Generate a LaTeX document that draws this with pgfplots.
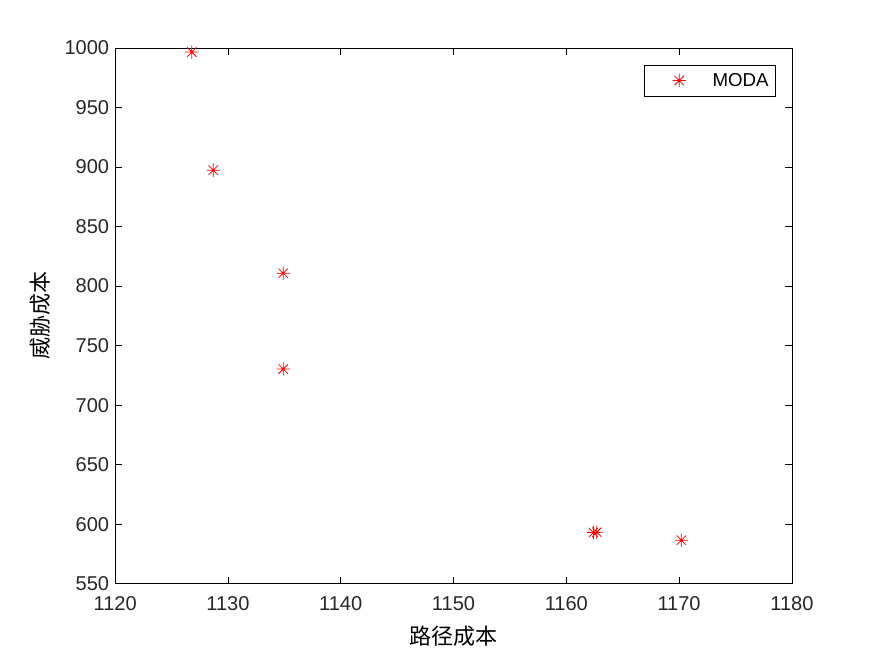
\documentclass[border=0pt]{standalone}
\usepackage{fontspec}
\setmainfont{Liberation Sans}
\newfontfamily\cjk{Noto Sans CJK SC}
\usepackage{pgfplots}
\pgfplotsset{compat=1.18}
\pgfdeclareplotmark{mstar}{%
  \pgfpathmoveto{\pgfqpoint{-\pgfplotmarksize}{0pt}}\pgfpathlineto{\pgfqpoint{\pgfplotmarksize}{0pt}}%
  \pgfpathmoveto{\pgfqpoint{0pt}{-\pgfplotmarksize}}\pgfpathlineto{\pgfqpoint{0pt}{\pgfplotmarksize}}%
  \pgfpathmoveto{\pgfqpoint{-0.7071\pgfplotmarksize}{-0.7071\pgfplotmarksize}}\pgfpathlineto{\pgfqpoint{0.7071\pgfplotmarksize}{0.7071\pgfplotmarksize}}%
  \pgfpathmoveto{\pgfqpoint{-0.7071\pgfplotmarksize}{0.7071\pgfplotmarksize}}\pgfpathlineto{\pgfqpoint{0.7071\pgfplotmarksize}{-0.7071\pgfplotmarksize}}%
  \pgfusepathqstroke}
\begin{document}
\begin{tikzpicture}[x=1pt,y=1pt]
\path (-86.25pt,-54.75pt) rectangle (569.25pt,437.25pt);
\begin{axis}[
  at={(0pt,0pt)}, anchor=south west,
  scale only axis,
  width=507pt, height=401.25pt,
  xmin=1120, xmax=1180, ymin=550, ymax=1000,
  xtick={1120,1130,...,1180},
  ytick={550,600,...,1000},
  tick align=inside,
  tick pos=both,
  major tick length=5pt,
  axis line style={line width=0.6pt},
  every tick/.style={line width=0.6pt, black},
  /pgf/number format/assume math mode=true,
  /pgf/number format/1000 sep={},
  tick label style={font=\fontsize{15}{18}\selectfont, color=black!85},
  xticklabel style={yshift=-6pt},
  yticklabel style={xshift=-1pt},
  xlabel={\cjk\fontsize{16.5}{18}\selectfont 路径成本},
  ylabel={\cjk\fontsize{16.5}{18}\selectfont 威胁成本},
  xlabel style={yshift=-5pt},
  ylabel style={yshift=4pt},
  legend style={at={(0.976,0.969)}, anchor=north east, draw=black, line width=0.5pt,
    font=\fontsize{14}{17}\selectfont, inner xsep=3pt, inner ysep=4pt},
  legend cell align=left,
  legend image code/.code={\path[draw=none,fill=none] (0,0) -- (0.6cm,0); \draw[#1] plot coordinates {(0.8cm,0cm)};},
]
\addplot[only marks, mark=mstar, mark size=5pt, red, line width=0.55pt] coordinates {
(1126.8,996.6)
(1128.7,897.4)
(1134.9,810.8)
(1134.9,730.3)
(1162.4,593.0)
(1162.7,593.2)
(1170.2,586.5)
};
\addlegendentry{\hspace{18pt}MODA}
\end{axis}
\end{tikzpicture}
\end{document}
